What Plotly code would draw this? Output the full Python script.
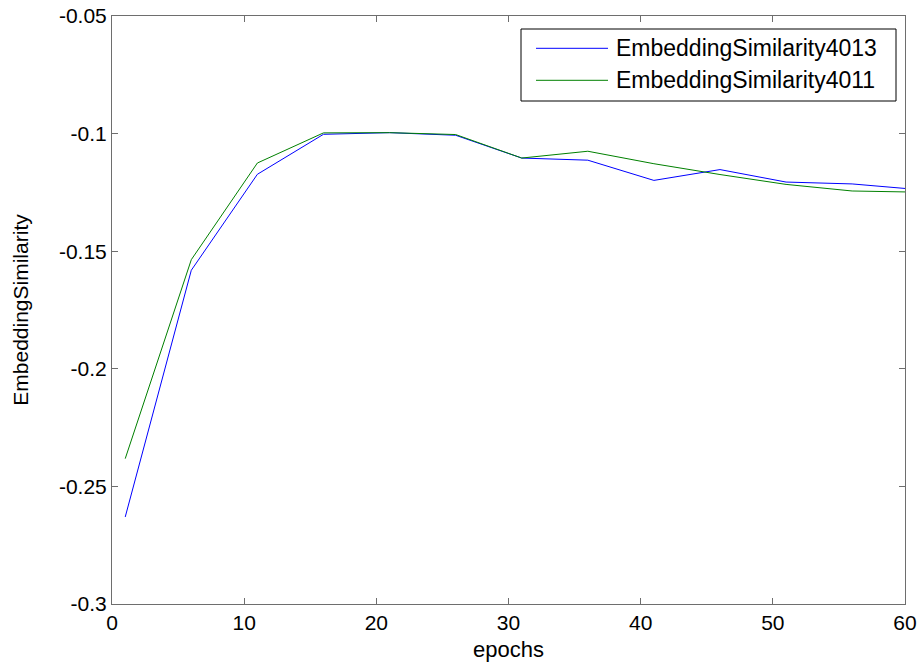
import plotly.graph_objects as go

epochs = [1, 6, 11, 16, 21, 26, 31, 36, 41, 46, 51, 56, 61]
sim_4013 = [-0.263, -0.1581, -0.1173, -0.1003, -0.0996, -0.1007, -0.1104, -0.1113,
            -0.1199, -0.1153, -0.1206, -0.1214, -0.1238]
sim_4011 = [-0.2382, -0.1536, -0.1125, -0.0997, -0.0996, -0.1004, -0.1104, -0.1075,
            -0.1128, -0.1174, -0.1216, -0.1244, -0.1249]
names = ["EmbeddingSimilarity4013", "EmbeddingSimilarity4011"]
colors = ["#0000FF", "#008000"]
x_ticks = [0, 10, 20, 30, 40, 50, 60]
y_ticks = [-0.3, -0.25, -0.2, -0.15, -0.1, -0.05]

FONT = "Liberation Sans, Arial, sans-serif"
fig = go.Figure()
for ys, nm, c in zip([sim_4013, sim_4011], names, colors):
    fig.add_trace(go.Scatter(x=epochs, y=ys, mode="lines", name=nm,
                             line=dict(color=c, width=1), showlegend=False))

axis_common = dict(showgrid=False, zeroline=False, showline=True, linecolor="#6e6e6e",
                   linewidth=1, mirror="ticks", ticks="inside", ticklen=6, automargin=False,
                   tickcolor="#6e6e6e", tickfont=dict(family=FONT, size=21, color="black"))
fig.update_xaxes(range=[0, 60], tickvals=x_ticks, ticktext=[str(v) for v in x_ticks],
                 title=dict(text="epochs", font=dict(family=FONT, size=22, color="black"), standoff=8),
                 **axis_common)
fig.update_yaxes(range=[-0.3, -0.05], tickvals=y_ticks, ticktext=[f"{v:g}" for v in y_ticks],
                 title=dict(text="EmbeddingSimilarity", font=dict(family=FONT, size=21, color="black"), standoff=24),
                 **axis_common)

# manual legend box (MATLAB style)
px_w = 905 - 112
px_h = 604 - 16
def px(xp):
    return (xp - 112) / px_w
def py(yp):
    return (604 - yp) / px_h
fig.add_shape(type="rect", xref="paper", yref="paper", x0=px(521), x1=px(896), y0=py(101), y1=py(29),
              line=dict(color="black", width=1), fillcolor="white", layer="above")
for i, (nm, c) in enumerate(zip(names, colors)):
    yy = [48.3, 80.3][i]
    fig.add_shape(type="line", xref="paper", yref="paper", x0=px(536), x1=px(608), y0=py(yy), y1=py(yy),
                  line=dict(color=c, width=1), layer="above")
    fig.add_annotation(xref="paper", yref="paper", x=px(614), y=py(yy), text=nm, showarrow=False,
                       xanchor="left", yanchor="middle", font=dict(family=FONT, size=23, color="black"))

fig.update_layout(width=922, height=665, margin=dict(l=112, r=17, t=16, b=61),
                  plot_bgcolor="white", paper_bgcolor="white")
fig.write_html("out.html", config={"displayModeBar": False},
               post_script="document.body.style.margin='0';")
